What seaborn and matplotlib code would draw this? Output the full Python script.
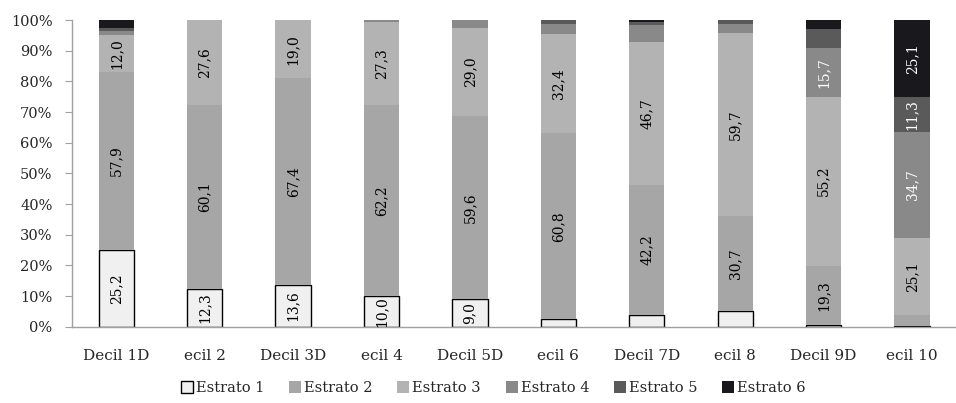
import numpy as np
import pandas as pd
import matplotlib
matplotlib.use("Agg")
import matplotlib.pyplot as plt
import seaborn as sns

deciles = ['Decil 1D', 'ecil 2', 'Decil 3D', 'ecil 4', 'Decil 5D',
           'ecil 6', 'Decil 7D', 'ecil 8', 'Decil 9D', 'ecil 10']
estratos = ['Estrato 1', 'Estrato 2', 'Estrato 3', 'Estrato 4', 'Estrato 5', 'Estrato 6']

estrato_1 = [25.2, 12.3, 13.6, 10.0, 9.0, 2.4, 4.0, 5.3, 0.6, 0.3]
estrato_2 = [57.9, 60.1, 67.4, 62.2, 59.6, 60.8, 42.2, 30.7, 19.3, 3.5]
estrato_3 = [12.0, 27.6, 19.0, 27.3, 29.0, 32.4, 46.7, 59.7, 55.2, 25.1]
estrato_4 = [1.5, 0.0, 0.0, 0.5, 2.4, 3.2, 5.6, 3.0, 15.7, 34.7]
estrato_5 = [0.8, 0.0, 0.0, 0.0, 0.0, 1.1, 0.9, 1.3, 6.4, 11.3]
estrato_6 = [2.6, 0.0, 0.0, 0.0, 0.0, 0.0, 0.6, 0.0, 2.8, 25.1]

df = pd.DataFrame({'Decil': deciles, 'Estrato 1': estrato_1, 'Estrato 2': estrato_2,
                   'Estrato 3': estrato_3, 'Estrato 4': estrato_4,
                   'Estrato 5': estrato_5, 'Estrato 6': estrato_6})

colors = ['#f0f0f0', '#a6a6a6', '#b3b3b3', '#898989', '#5a5a5a', '#19181d']
text_colors = ['black', 'black', 'black', 'white', 'white', 'white']

sns.set_style("white")
plt.rcParams['font.family'] = ['DejaVu Serif']

fig = plt.figure(figsize=(9.56, 4.03), dpi=100)
ax = fig.add_axes([0.0753, 0.189, 0.925, 0.761])

x = np.arange(len(deciles))
bottom = np.zeros(len(deciles))
handles = []
for i, est in enumerate(estratos):
    vals = df[est].values
    edge = 'black' if i == 0 else 'none'
    bars = ax.bar(x, vals, width=0.4, bottom=bottom, color=colors[i],
                  edgecolor=edge, linewidth=1.0 if i == 0 else 0, label=est)
    handles.append(bars)
    for xi, v, b in zip(x, vals, bottom):
        if v >= 9:
            ax.text(xi, b + v / 2, f"{v:.1f}".replace('.', ','), rotation=90,
                    ha='center', va='center', fontsize=10, color=text_colors[i])
    bottom += vals

ax.set_xlim(-0.5, len(deciles) - 0.5)
ax.set_ylim(0, 100)
ax.set_yticks(np.arange(0, 101, 10))
ax.set_yticklabels([f"{v}%" for v in range(0, 101, 10)], fontsize=10.5)
ax.set_xticks(x)
ax.set_xticklabels(deciles, fontsize=11)
ax.set_xticks(np.arange(-0.5, len(deciles), 1), minor=True)
ax.tick_params(axis='x', which='major', length=0, pad=16)
ax.tick_params(axis='x', which='minor', length=5, color='#a0a0a0', direction='out')
ax.tick_params(axis='y', length=5, color='#a0a0a0', direction='out', left=True, pad=9)

sns.despine(ax=ax, top=True, right=True)
for s in ['left', 'bottom']:
    ax.spines[s].set_color('#a0a0a0')
    ax.spines[s].set_linewidth(1.0)

fig.legend(handles=handles, labels=estratos, loc='center', ncol=6,
           bbox_to_anchor=(0.516, 0.037), frameon=False, fontsize=10.5,
           handlelength=0.82, handleheight=0.82, handletextpad=0.2, columnspacing=1.7)

fig.savefig('out.png', dpi=100)
